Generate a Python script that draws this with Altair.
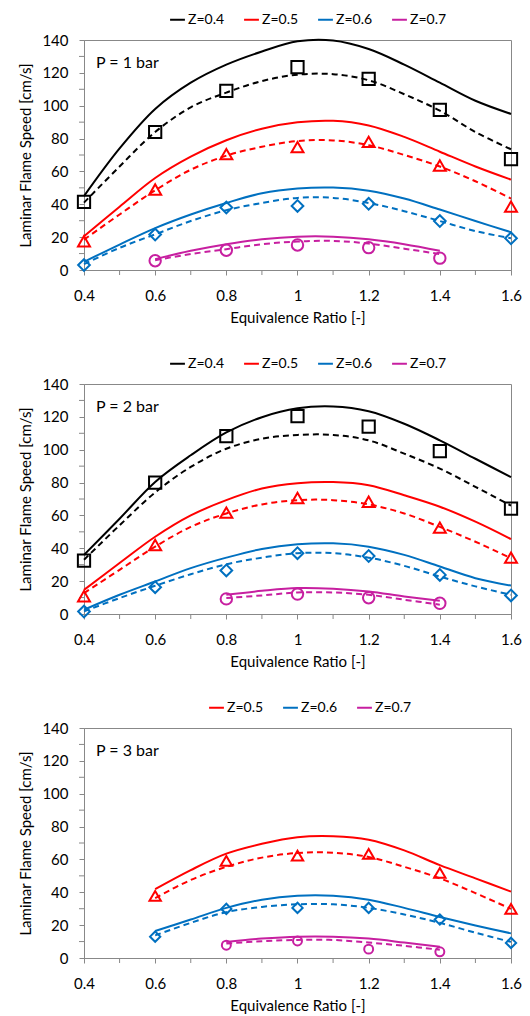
import altair as alt
import pandas as pd

# Equivalence-ratio grid for the computed curves
PHI = [0.4, 0.5, 0.6, 0.7, 0.8, 0.9, 1.0, 1.1, 1.2, 1.3, 1.4, 1.5, 1.6]
# Equivalence ratios of the measured points
PHI_PTS = [0.4, 0.6, 0.8, 1.0, 1.2, 1.4, 1.6]

Z_LABELS = ["Z=0.4", "Z=0.5", "Z=0.6", "Z=0.7"]
Z_COLORS = {"Z=0.4": "#000000", "Z=0.5": "#ff0000", "Z=0.6": "#0070c0", "Z=0.7": "#c71fa0"}
Z_SHAPES = {"Z=0.4": "square", "Z=0.5": "triangle-up", "Z=0.6": "diamond", "Z=0.7": "circle"}
Z_SIZES = {"Z=0.4": 150, "Z=0.5": 130, "Z=0.6": 80, "Z=0.7": 140}

N = None

# ---- P = 1 bar ----
p1_solid = {
    "Z=0.4": [45, 74, 98, 114, 125, 133, 139.2, 139.7, 134.5, 125, 114, 103, 95],
    "Z=0.5": [20.5, 38.5, 56, 69, 79, 86, 89.9, 90.8, 88, 81, 72, 63, 55],
    "Z=0.6": [5, 15.5, 25.5, 33.8, 40.8, 46.7, 49.6, 50.2, 48.3, 43.5, 36.8, 29.8, 23],
    "Z=0.7": [N, N, 6.6, 11.7, 15.7, 18.7, 20.3, 20.3, 18.7, 15.7, 11.7, N, N],
}
p1_dashed = {
    "Z=0.4": [41, 63, 84, 99, 108, 115, 118.9, 119.2, 115.5, 107, 97, 84, 73.5],
    "Z=0.5": [18.5, 33.8, 48.5, 61, 69.6, 75, 78.5, 78.9, 76, 70, 63, 54, 43.5],
    "Z=0.6": [3.6, 13.5, 21.7, 29.8, 36.4, 40.8, 43.9, 43.9, 40.8, 35.8, 29.8, 23.7, 19.3],
    "Z=0.7": [N, N, 6, 9.7, 12.7, 15.7, 17.3, 17.7, 16.1, 13, 9.7, N, N],
}
p1_meas = {
    "Z=0.4": [41.5, 84, 109, 123.5, 116.3, 97.5, 67.5],
    "Z=0.5": [17.5, 49, 70.5, 74.8, 78, 63.6, 38.6],
    "Z=0.6": [3, 21.6, 38, 39, 40.3, 29.8, 19.3],
    "Z=0.7": [N, 5.6, 12, 15.2, 13.6, 7.2, N],
}

# ---- P = 2 bar ----
p2_solid = {
    "Z=0.4": [36, 58, 80.4, 96.6, 110.5, 119.8, 125.2, 126.3, 123.4, 115.8, 105.7, 94.5, 83.3],
    "Z=0.5": [14.7, 31, 47, 60, 69.3, 76.4, 79.6, 80.3, 78.4, 72.3, 65.3, 56.2, 45.6],
    "Z=0.6": [2.6, 11.7, 19.8, 27.9, 34.3, 39.6, 42.4, 43, 41, 36, 28.9, 21.8, 17.3],
    "Z=0.7": [N, N, N, N, 11.7, 14.1, 15.8, 15.4, 13.7, 10.7, 8.1, N, N],
}
p2_dashed = {
    "Z=0.4": [33, 54, 74, 89.5, 100.6, 106.7, 109, 109, 105.7, 97.6, 88.5, 77.4, 66],
    "Z=0.5": [12.7, 26.9, 41, 53, 61.2, 66.7, 69.3, 69.3, 66.7, 61.2, 53, 44, 34],
    "Z=0.6": [1.6, 9.7, 17.2, 24.2, 30.3, 34.3, 37, 37, 34.3, 29.3, 22.8, 16.8, 11.7],
    "Z=0.7": [N, N, N, N, 9.7, 11.3, 13.1, 13.1, 11.7, 8.7, 5.7, N, N],
}
p2_meas = {
    "Z=0.4": [32.5, 80, 108.2, 120.4, 114.1, 99.2, 64.2],
    "Z=0.5": [10.8, 42, 61.7, 70.6, 68.3, 52.6, 34.3],
    "Z=0.6": [1.5, 16.3, 26.5, 37, 35.3, 23.8, 11.3],
    "Z=0.7": [N, N, 9.2, 12.1, 9.9, 6.5, N],
}

# ---- P = 3 bar ----
p3_solid = {
    "Z=0.5": [N, N, 41.9, 53.5, 63.5, 69.5, 73.5, 74.1, 72, 65.5, 56.5, 48.5, 40.4],
    "Z=0.6": [N, N, 16.4, 23.4, 30.5, 35.5, 37.9, 37.9, 35.5, 30.5, 25, 19.8, 15],
    "Z=0.7": [N, N, N, N, 9.8, 11.8, 13, 13, 11.8, 9.4, 6.8, N, N],
}
p3_dashed = {
    "Z=0.5": [N, N, 36.5, 47.5, 55.5, 61.1, 63.9, 64.1, 61.5, 55.5, 48.5, 39.5, 29.9],
    "Z=0.6": [N, N, 13.8, 21.4, 27.9, 31.1, 32.7, 32.7, 30.5, 26.5, 21.4, 15.4, 9.8],
    "Z=0.7": [N, N, N, N, 8.8, 10.2, 11, 11, 9.4, 7.4, 5, N, N],
}
p3_meas = {
    "Z=0.5": [N, 37.8, 59.1, 62.3, 63.4, 51.8, 29.9],
    "Z=0.6": [N, 13, 29.9, 30.5, 30.5, 23.4, 9.2],
    "Z=0.7": [N, N, 7.8, 10.4, 5.4, 3.8, N],
}

# Labelled (major) and unlabelled (minor) tick positions
X_MAJOR = [0.4, 0.6, 0.8, 1.0, 1.2, 1.4, 1.6]
X_MINOR = [0.5, 0.7, 0.9, 1.1, 1.3, 1.5]
Y_MAJOR = [0, 20, 40, 60, 80, 100, 120, 140]
Y_MINOR = [10, 30, 50, 70, 90, 110, 130]

AXIS_GRAY = "#888888"
FONT = "Lato"
PLOT_W, PLOT_H = 427, 230
TICK = 5

X_SCALE = alt.Scale(domain=[0.4, 1.6], nice=False, zero=False)
Y_SCALE = alt.Scale(domain=[0, 140], nice=False)

X_AXIS = alt.Axis(
    title="Equivalence Ratio [-]",
    values=X_MAJOR,
    format="~g",
    labelFlush=False,
    labelOverlap=False,
    grid=False,
    tickSize=TICK,
    labelPadding=13,
    titlePadding=7,
)
Y_AXIS = alt.Axis(
    title="Laminar Flame Speed [cm/s]",
    values=Y_MAJOR,
    labelFlush=False,
    labelOverlap=False,
    grid=False,
    tickSize=TICK,
    labelPadding=11,
    titlePadding=8,
)


def to_frame(series, xs, key):
    rows = []
    for z, vals in series.items():
        for x, v in zip(xs, vals):
            if v is not None:
                rows.append({"phi": x, "S": v, key: z})
    return pd.DataFrame(rows)


def make_panel(label, solid, dashed, meas, legend_x):
    zs = [z for z in Z_LABELS if z in solid]
    colors = [Z_COLORS[z] for z in zs]

    x_enc = alt.X("phi:Q", scale=X_SCALE, axis=X_AXIS)
    y_enc = alt.Y("S:Q", scale=Y_SCALE, axis=Y_AXIS)

    solid_layer = alt.Chart(to_frame(solid, PHI, "Z")).mark_line(
        strokeWidth=2, interpolate="catmull-rom"
    ).encode(
        x=x_enc,
        y=y_enc,
        color=alt.Color(
            "Z:N",
            scale=alt.Scale(domain=zs, range=colors),
            legend=alt.Legend(
                title=None,
                orient="none",
                direction="horizontal",
                legendX=legend_x,
                legendY=-29,
                symbolType="stroke",
                symbolSize=220,
                symbolStrokeWidth=2,
                labelFontSize=14,
                labelOffset=2,
                columnPadding=15,
                labelFont=FONT,
            ),
        ),
        detail="Z:N",
    )

    dashed_layer = alt.Chart(to_frame(dashed, PHI, "Zd")).mark_line(
        strokeWidth=2, strokeDash=[6, 4], interpolate="catmull-rom"
    ).encode(
        x=x_enc,
        y=y_enc,
        color=alt.Color("Zd:N", scale=alt.Scale(domain=zs, range=colors), legend=None),
        detail="Zd:N",
    )

    point_layer = alt.Chart(to_frame(meas, PHI_PTS, "Zm")).mark_point(
        filled=False, strokeWidth=2, opacity=1
    ).encode(
        x=x_enc,
        y=y_enc,
        color=alt.Color("Zm:N", scale=alt.Scale(domain=zs, range=colors), legend=None),
        shape=alt.Shape("Zm:N", scale=alt.Scale(domain=zs, range=[Z_SHAPES[z] for z in zs]), legend=None),
        size=alt.Size("Zm:N", scale=alt.Scale(domain=zs, range=[Z_SIZES[z] for z in zs]), legend=None),
    )

    # unlabelled minor ticks between the labelled ones
    y_minor = alt.Chart(pd.DataFrame({"v": Y_MINOR})).mark_rule(
        color=AXIS_GRAY, strokeWidth=1
    ).encode(x=alt.value(-TICK), x2=alt.value(0), y=alt.Y("v:Q", scale=Y_SCALE, axis=Y_AXIS))
    x_minor = alt.Chart(pd.DataFrame({"v": X_MINOR})).mark_rule(
        color=AXIS_GRAY, strokeWidth=1
    ).encode(
        y=alt.value(PLOT_H), y2=alt.value(PLOT_H + TICK), x=alt.X("v:Q", scale=X_SCALE, axis=X_AXIS)
    )

    label_layer = alt.Chart(pd.DataFrame({"t": [label]})).mark_text(
        align="left", baseline="middle", fontSize=16, font=FONT, color="#000000"
    ).encode(text="t:N", x=alt.value(12), y=alt.value(23))

    return (
        alt.layer(y_minor, x_minor, solid_layer, dashed_layer, point_layer, label_layer)
        .resolve_scale(color="independent", shape="independent", size="independent")
        .properties(width=PLOT_W, height=PLOT_H)
    )


panel1 = make_panel("P = 1 bar", p1_solid, p1_dashed, p1_meas, 85)
panel2 = make_panel("P = 2 bar", p2_solid, p2_dashed, p2_meas, 85)
panel3 = make_panel("P = 3 bar", p3_solid, p3_dashed, p3_meas, 124)

chart = (
    alt.vconcat(panel1, panel2, panel3, spacing=28)
    .resolve_scale(color="independent", shape="independent", size="independent")
    .properties(padding={"top": 10, "left": 18, "right": 5, "bottom": 5})
    .configure(font=FONT)
    .configure_view(stroke=AXIS_GRAY, strokeWidth=1)
    .configure_axis(
        domainColor=AXIS_GRAY,
        tickColor=AXIS_GRAY,
        labelColor="#000000",
        titleColor="#000000",
        labelFontSize=15,
        titleFontSize=15,
        titleFontWeight="normal",
        labelFont=FONT,
        titleFont=FONT,
        labelOverlap=False,
    )
)

chart.save("out.html", embed_options={"renderer": "svg", "actions": False})
